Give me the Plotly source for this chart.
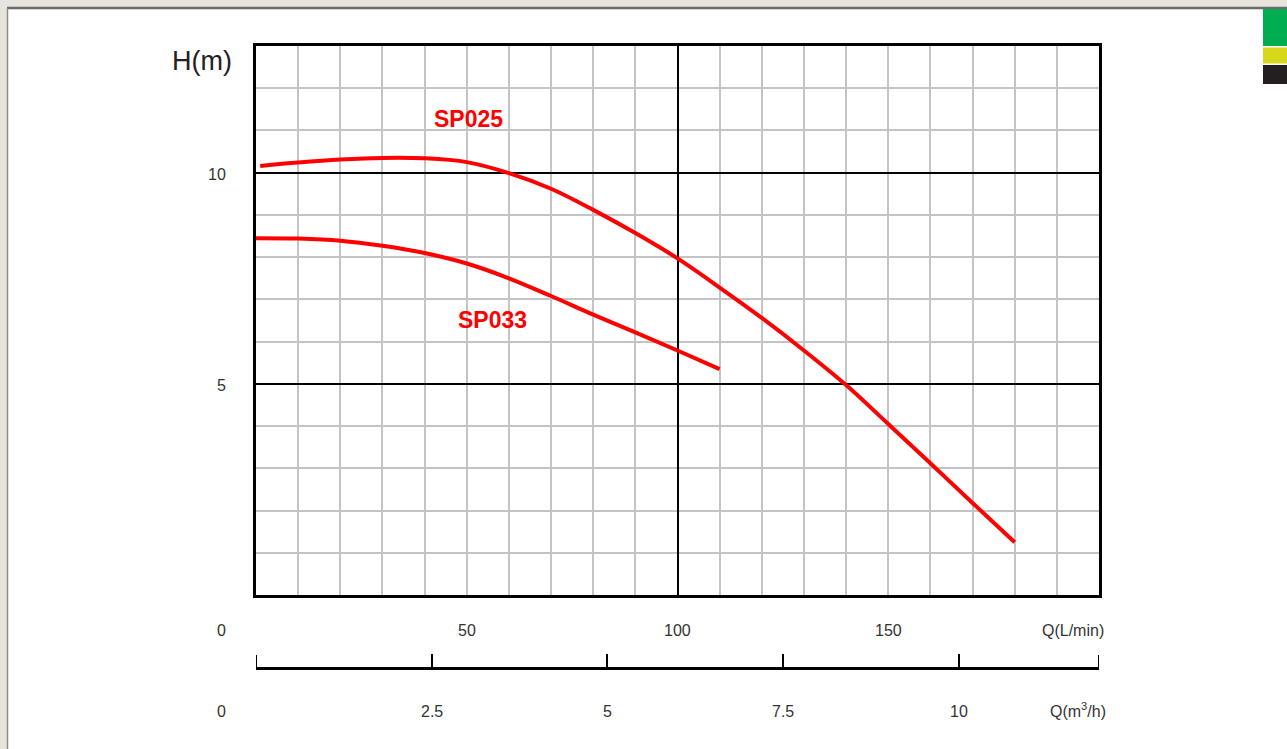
import plotly.graph_objects as go

W, H = 1287, 749

# Data (Q in L/min, H in m)
sp025_q = [1, 10, 20, 30, 40, 50, 60, 70, 80, 90, 100, 110, 120, 130, 140, 150, 160, 170, 180]
sp025_h = [10.16, 10.24, 10.31, 10.35, 10.34, 10.25, 9.99, 9.62, 9.12, 8.57, 7.97, 7.28, 6.56, 5.79, 4.97, 4.05, 3.12, 2.18, 1.25]
sp033_q = [0, 10, 20, 30, 40, 50, 60, 70, 80, 90, 100, 110]
sp033_h = [8.45, 8.44, 8.39, 8.27, 8.10, 7.85, 7.50, 7.08, 6.64, 6.22, 5.79, 5.35]

q_lmin_ticks = [50, 100, 150]
h_ticks = [5, 10]
q_m3h_ticks = [2.5, 5, 7.5, 10]
q_m3h_marks = [0, 2.5, 5, 7.5, 10, 12]
q_m3h_ends = [0, 12]

px = lambda x: x / W
py = lambda y: 1 - y / H

fig = go.Figure()
fig.add_trace(go.Scatter(x=sp025_q, y=sp025_h, mode="lines",
                         line=dict(color="#ff0000", width=4, shape="spline", smoothing=1),
                         showlegend=False, hoverinfo="skip"))
fig.add_trace(go.Scatter(x=sp033_q, y=sp033_h, mode="lines",
                         line=dict(color="#ff0000", width=4, shape="spline", smoothing=1),
                         showlegend=False, hoverinfo="skip"))
# invisible trace to activate the second x axis
fig.add_trace(go.Scatter(x=[0], y=[0], xaxis="x2", yaxis="y", mode="markers", marker=dict(opacity=0),
                         showlegend=False, hoverinfo="skip"))

xdom = [px(256), px(1099)]
fig.update_layout(
    width=W, height=H,
    margin=dict(l=0, r=0, t=0, b=0),
    paper_bgcolor="#e8e4dd",
    plot_bgcolor="white",
    font=dict(family="Liberation Sans, Arial, sans-serif", color="#333333"),
    xaxis=dict(domain=xdom, range=[0, 200], dtick=100, showgrid=True, gridcolor="black", gridwidth=1.5,
               minor=dict(dtick=10, showgrid=True, gridcolor="#c4c4c4", gridwidth=2),
               showline=True, linecolor="black", linewidth=3, mirror=True, ticks="",
               showticklabels=False, zeroline=False, anchor="y"),
    yaxis=dict(domain=[py(595), py(46)], range=[0, 13], dtick=5, showgrid=True, gridcolor="black", gridwidth=1.5,
               minor=dict(dtick=1, showgrid=True, gridcolor="#c4c4c4", gridwidth=2),
               showline=True, linecolor="black", linewidth=3, mirror=True, ticks="",
               showticklabels=False, zeroline=False),
    xaxis2=dict(domain=xdom, range=[0, 12], overlaying="x", anchor="free", position=py(668), side="bottom",
                showgrid=False, zeroline=False, showline=True, linecolor="black", linewidth=2.5,
                ticks="inside", ticklen=13, tickwidth=2, tickcolor="black",
                tickvals=q_m3h_marks, showticklabels=False),
)

shapes = [
    dict(type="rect", xref="paper", yref="paper", x0=px(7), x1=1.01, y0=-0.01, y1=py(8),
         fillcolor="white", line=dict(width=0), layer="below"),
    dict(type="line", xref="paper", yref="paper", x0=px(7), x1=1, y0=py(8), y1=py(8),
         line=dict(color="#6a6a6a", width=2.5)),
    dict(type="line", xref="paper", yref="paper", x0=px(7.5), x1=px(7.5), y0=0, y1=py(8),
         line=dict(color="#8a8a8a", width=1.5)),
    dict(type="rect", xref="paper", yref="paper", x0=px(1263), x1=1, y0=py(46), y1=py(9),
         fillcolor="#00ad50", line=dict(width=0)),
    dict(type="rect", xref="paper", yref="paper", x0=px(1263), x1=1, y0=py(63.5), y1=py(47.5),
         fillcolor="#d7d81c", line=dict(width=0)),
    dict(type="rect", xref="paper", yref="paper", x0=px(1263), x1=1, y0=py(84), y1=py(65),
         fillcolor="#231f20", line=dict(width=0)),
]
# end ticks of the m3/h axis (hidden by plotly at the domain edges)
for v in q_m3h_ends:
    shapes.append(dict(type="line", xref="x2", yref="paper", x0=v, x1=v, y0=py(669), y1=py(655),
                       line=dict(color="black", width=2)))
fig.update_layout(shapes=shapes)

ann = []
lbl = dict(size=16, color="#333333")
C = dict(xanchor="center", yanchor="middle", showarrow=False)
for t in q_lmin_ticks:
    ann.append(dict(x=t, xref="x", y=py(630), yref="paper", text=str(t), font=lbl, **C))
ann.append(dict(x=px(221), xref="paper", y=py(630), yref="paper", text="0", font=lbl, **C))
ann.append(dict(x=px(1073), xref="paper", y=py(630), yref="paper", text="Q(L/min)", font=lbl, **C))
for t in h_ticks:
    ann.append(dict(x=px(228), xref="paper", y=t, yref="y", text=str(t), font=lbl, xanchor="right",
                    yanchor="middle", showarrow=False, yshift=-2))
for t in q_m3h_ticks:
    ann.append(dict(x=t, xref="x2", y=py(711), yref="paper", text=f"{t:g}", font=lbl, **C))
ann.append(dict(x=px(221), xref="paper", y=py(711), yref="paper", text="0", font=lbl, **C))
ann.append(dict(x=px(1078), xref="paper", y=py(710), yref="paper", text="Q(m<sup>3</sup>/h)", font=lbl, **C))
ann.append(dict(x=px(234), xref="paper", y=py(61), yref="paper", text="H(m)", xanchor="right", yanchor="middle",
                showarrow=False, font=dict(size=27, color="#222222")))
ann.append(dict(x=50.5, xref="x", y=11.28, yref="y", text="<b>SP025</b>", font=dict(size=23, color="#ff0000"), **C))
ann.append(dict(x=56, xref="x", y=6.52, yref="y", text="<b>SP033</b>", font=dict(size=23, color="#ff0000"), **C))
fig.update_layout(annotations=ann)

fig.write_html("out.html", config={"displayModeBar": False},
               post_script="document.body.style.margin='0';document.body.style.overflow='hidden';")
